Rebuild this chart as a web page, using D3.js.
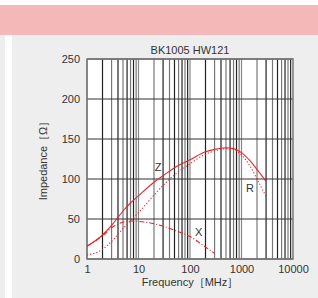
<!DOCTYPE html>
<html>
<head>
<meta charset="utf-8">
<script src="https://cdn.jsdelivr.net/npm/d3@7"></script>
<style>
  body { margin: 0; background: #fff; }
  text { font-family: "Liberation Sans", Arial, sans-serif; fill: #333; }
</style>
</head>
<body>
<div id="chart"></div>
<script>
// --- data ---
const freqs = [1, 2, 3, 5, 7, 10, 20, 30, 50, 100, 200, 300, 500, 700, 1000, 1500, 2000, 3000];
const zVals = [16, 30, 42, 60, 70, 79, 96, 104, 114, 124, 134, 137, 139, 138, 133, 122, 112, 97];
const rVals = [5, 12, 22, 38, 48, 58, 80, 92, 105, 119, 131, 135, 138, 137, 130, 115, 100, 78];
const xFreqs = [1, 2, 3, 5, 7, 10, 20, 30, 50, 100, 200, 300];
const xVals = [16, 29, 39, 46, 47.5, 47, 44, 41, 36, 28, 15, 7];
const xTicks = [1, 10, 100, 1000, 10000];
const yTicks = [0, 50, 100, 150, 200, 250];
const title = 'BK1005 HW121';
// curve labels: name, frequency, impedance where the text sits
const tagNames = ['Z', 'R', 'X'];
const tagFreqs = [24, 1460, 147];
const tagVals = [110, 84, 29];

const W = 318, H = 298;
const m = { left: 87, right: 293, top: 59, bottom: 259 };

const svg = d3.select('#chart').append('svg')
  .attr('width', W).attr('height', H);

// page background pieces
svg.append('rect').attr('x', 0).attr('y', 35).attr('width', W).attr('height', H - 35).attr('fill', '#eeeeee');
svg.append('rect').attr('x', 5).attr('y', 35).attr('width', 7).attr('height', H - 35).attr('fill', '#ffffff');
svg.append('rect').attr('x', 0).attr('y', 5).attr('width', W).attr('height', 30).attr('fill', '#f5b8b8');

const x = d3.scaleLog().domain([1, 10000]).range([m.left, m.right]);
const y = d3.scaleLinear().domain([0, 250]).range([m.bottom, m.top]);

svg.append('rect')
  .attr('x', m.left).attr('y', m.top)
  .attr('width', m.right - m.left).attr('height', m.bottom - m.top)
  .attr('fill', '#fff');

// vertical grid: every 1..9 in each decade
const minor = [];
for (let d = 1; d < 10000; d *= 10) {
  for (let k = 1; k < 10; k++) minor.push(d * k);
}
svg.append('g').selectAll('line')
  .data(minor)
  .join('line')
  .attr('x1', d => x(d)).attr('x2', d => x(d))
  .attr('y1', m.top).attr('y2', m.bottom)
  .attr('stroke', (d, i) => (i % 9 === 0 ? '#888' : (i % 2 ? '#222' : '#777')))
  .attr('stroke-width', 1.2);

svg.append('g').selectAll('line')
  .data(yTicks)
  .join('line')
  .attr('x1', m.left).attr('x2', m.right)
  .attr('y1', d => y(d)).attr('y2', d => y(d))
  .attr('stroke', '#333')
  .attr('stroke-width', 1.2);

svg.append('rect')
  .attr('x', m.left).attr('y', m.top)
  .attr('width', m.right - m.left).attr('height', m.bottom - m.top)
  .attr('fill', 'none').attr('stroke', '#777').attr('stroke-width', 1.5);

// axes labels
const yAxis = d3.axisLeft(y).tickValues(yTicks).tickSize(0).tickPadding(7);
svg.append('g')
  .attr('transform', `translate(${m.left},0)`)
  .call(yAxis)
  .call(g => g.select('.domain').remove())
  .selectAll('text').style('font-size', '11px').attr('fill', '#333');

const xAxis = d3.axisBottom(x).tickValues(xTicks).tickFormat(d3.format('d')).tickSize(0).tickPadding(6);
svg.append('g')
  .attr('transform', `translate(0,${m.bottom})`)
  .call(xAxis)
  .call(g => g.select('.domain').remove())
  .selectAll('text').style('font-size', '11px').attr('fill', '#333');

svg.append('text')
  .attr('x', (m.left + m.right) / 2).attr('y', 54)
  .attr('text-anchor', 'middle')
  .style('font-size', '11px')
  .text(title);

svg.append('text')
  .attr('x', (m.left + m.right) / 2).attr('y', 286)
  .attr('text-anchor', 'middle')
  .style('font-size', '11px')
  .text('Frequency［MHz］');

svg.append('text')
  .attr('transform', 'translate(47,158) rotate(-90)')
  .attr('text-anchor', 'middle')
  .style('font-size', '11px')
  .text('Impedance［Ω］');

// curves
const line = d3.line()
  .x(d => x(d[0]))
  .y(d => y(d[1]))
  .curve(d3.curveMonotoneX);

const red = '#e8262a';
svg.append('path')
  .attr('d', line(d3.zip(freqs, zVals)))
  .attr('fill', 'none').attr('stroke', red).attr('stroke-width', 1.1);
svg.append('path')
  .attr('d', line(d3.zip(freqs, rVals)))
  .attr('fill', 'none').attr('stroke', red).attr('stroke-width', 1.1)
  .attr('stroke-dasharray', '1.2,2');
svg.append('path')
  .attr('d', line(d3.zip(xFreqs, xVals)))
  .attr('fill', 'none').attr('stroke', red).attr('stroke-width', 1.1)
  .attr('stroke-dasharray', '5,2,1,2');

svg.append('g').selectAll('text')
  .data(d3.zip(tagNames, tagFreqs, tagVals))
  .join('text')
  .attr('x', d => x(d[1]))
  .attr('y', d => y(d[2]))
  .attr('text-anchor', 'middle')
  .style('font-size', '11px')
  .text(d => d[0]);
</script>
</body>
</html>
